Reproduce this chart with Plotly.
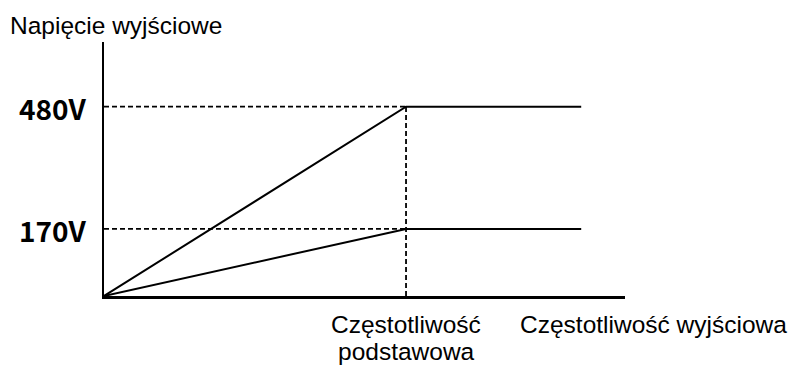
import plotly.graph_objects as go

# V/f characteristic: output voltage vs output frequency
freq = [0.0, 1.0, 1.58]          # 0, base frequency, upper frequency (relative units)
volt_high = [0, 480, 480]        # 480 V motor curve
volt_low = [0, 170, 170]         # 170 V motor curve
base_freq = 1.0
level_values = [480, 170]
level_labels = ["480V", "170V"]

x_max = 1.725
y_max = 644

TXT_FONT = dict(family="Liberation Sans, Arial, sans-serif", size=24.5, color="#000")
LVL_FONT = dict(family="Noto Sans CJK KR, sans-serif", size=28, color="#000", weight="bold")
GUIDE = dict(color="#000", width=1.8, dash="5px,3px")

fig = go.Figure()

# dashed guides from the axes to the knee points
for v in level_values:
    fig.add_trace(go.Scatter(
        x=[0, base_freq], y=[v, v], mode="lines", line=GUIDE,
        hoverinfo="skip", showlegend=False))
fig.add_trace(go.Scatter(
    x=[base_freq, base_freq], y=[0, max(level_values)], mode="lines", line=GUIDE,
    hoverinfo="skip", showlegend=False))

# V/f curves
for ys in (volt_high, volt_low):
    fig.add_trace(go.Scatter(
        x=freq, y=ys, mode="lines",
        line=dict(color="#000", width=2),
        hoverinfo="skip", showlegend=False))

annotations = []
for v, lab in zip(level_values, level_labels):
    annotations.append(dict(
        x=0, y=v, xref="x", yref="y", text=lab, showarrow=False,
        xanchor="right", yanchor="middle", xshift=-15, yshift=-1, font=LVL_FONT))

annotations += [
    dict(x=-0.184, y=1.065, xref="paper", yref="paper", text="Napięcie wyjściowe",
         showarrow=False, xanchor="left", yanchor="middle", font=TXT_FONT),
    dict(x=base_freq, y=-0.112, xref="x", yref="paper", text="Częstotliwość",
         showarrow=False, xanchor="center", yanchor="middle", font=TXT_FONT),
    dict(x=base_freq, y=-0.2185, xref="x", yref="paper", text="podstawowa",
         showarrow=False, xanchor="center", yanchor="middle", font=TXT_FONT),
    dict(x=0.7946, y=-0.112, xref="paper", yref="paper", text="Częstotliwość wyjściowa",
         showarrow=False, xanchor="left", yanchor="middle", font=TXT_FONT),
]

fig.update_layout(
    width=792, height=366, autosize=False,
    margin=dict(l=104, r=167, t=42, b=70, pad=0),
    paper_bgcolor="white", plot_bgcolor="white",
    annotations=annotations,
    xaxis=dict(range=[0, x_max], showline=True, linecolor="#000", linewidth=2.5,
               showgrid=False, zeroline=False, showticklabels=False, ticks="",
               fixedrange=True),
    yaxis=dict(range=[0, y_max], showline=True, linecolor="#000", linewidth=2.5,
               showgrid=False, zeroline=False, showticklabels=False, ticks="",
               fixedrange=True),
)

fig.write_html("out.html", config={"displayModeBar": False, "staticPlot": True})
